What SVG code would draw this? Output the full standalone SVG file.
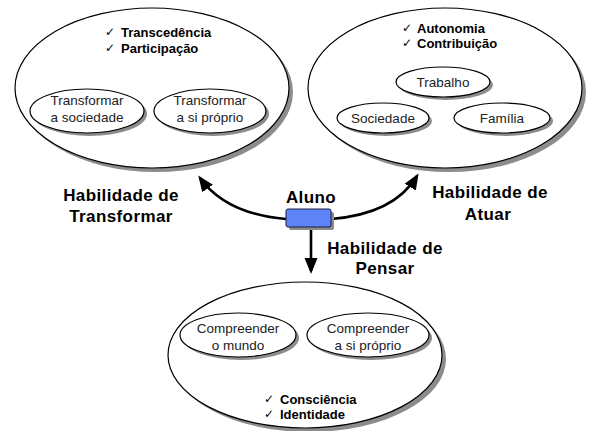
<svg xmlns="http://www.w3.org/2000/svg" width="590" height="431" viewBox="0 0 590 431">
<defs>
<style>
.sh{fill:#8c8c8c;stroke:none}
.el{fill:#fff;stroke:#000;stroke-width:1.2}
.in{font-family:"Liberation Sans",Arial,sans-serif;font-size:13.5px;fill:#222;text-anchor:middle}
.it{font-family:"Liberation Sans",Arial,sans-serif;font-size:13px;font-weight:bold;fill:#000}
.ck{font-family:"DejaVu Sans",sans-serif;font-size:12px;fill:#000}
.lb{font-family:"Liberation Sans",Arial,sans-serif;font-size:17px;font-weight:bold;fill:#000;text-anchor:middle;letter-spacing:0.4px}
.cn{fill:none;stroke:#000;stroke-width:2.6}
</style>
<marker id="ah" markerUnits="userSpaceOnUse" markerWidth="16" markerHeight="14" refX="13" refY="6.5" orient="auto">
<path d="M0,0 L16,6.5 L0,13 z" fill="#000"/>
</marker>
</defs>
<rect width="590" height="431" fill="#fff"/>

<g id="transformar">
<ellipse class="sh" cx="156" cy="92" rx="137" ry="80"/>
<ellipse class="el" cx="152" cy="88" rx="137" ry="80"/>
<text class="ck" x="105" y="36">✓</text>
<text class="it" x="121" y="37">Transcedência</text>
<text class="ck" x="105" y="52">✓</text>
<text class="it" x="121" y="53">Participação</text>
<g id="transformar-sociedade">
<ellipse class="sh" cx="90" cy="114" rx="57" ry="22"/>
<ellipse class="el" cx="87" cy="111" rx="57" ry="22"/>
<text class="in" x="87" y="105">Transformar</text>
<text class="in" x="87" y="122">a sociedade</text>
</g>
<g id="transformar-si">
<ellipse class="sh" cx="213" cy="114" rx="56" ry="22"/>
<ellipse class="el" cx="210" cy="111" rx="56" ry="22"/>
<text class="in" x="210" y="105">Transformar</text>
<text class="in" x="210" y="122">a si próprio</text>
</g>
</g>

<g id="atuar">
<ellipse class="sh" cx="449" cy="92" rx="137" ry="80"/>
<ellipse class="el" cx="445" cy="88" rx="137" ry="80"/>
<text class="ck" x="402" y="32">✓</text>
<text class="it" x="417" y="33">Autonomia</text>
<text class="ck" x="402" y="47">✓</text>
<text class="it" x="417" y="48">Contribuição</text>
<g id="trabalho">
<ellipse class="sh" cx="446" cy="85" rx="47" ry="15"/>
<ellipse class="el" cx="443" cy="82" rx="47" ry="15"/>
<text class="in" x="443" y="87">Trabalho</text>
</g>
<g id="sociedade">
<ellipse class="sh" cx="386" cy="121" rx="46" ry="15"/>
<ellipse class="el" cx="383" cy="118" rx="46" ry="15"/>
<text class="in" x="383" y="123">Sociedade</text>
</g>
<g id="familia">
<ellipse class="sh" cx="505" cy="121" rx="48" ry="15"/>
<ellipse class="el" cx="502" cy="118" rx="48" ry="15"/>
<text class="in" x="502" y="123">Família</text>
</g>
</g>

<g id="pensar">
<ellipse class="sh" cx="309" cy="359" rx="137" ry="73"/>
<ellipse class="el" cx="305" cy="355" rx="137" ry="73"/>
<g id="compreender-mundo">
<ellipse class="sh" cx="241" cy="338" rx="58" ry="22"/>
<ellipse class="el" cx="238" cy="335" rx="58" ry="22"/>
<text class="in" x="238" y="333">Compreender</text>
<text class="in" x="238" y="350">o mundo</text>
</g>
<g id="compreender-si">
<ellipse class="sh" cx="371" cy="338" rx="61" ry="22"/>
<ellipse class="el" cx="368" cy="335" rx="61" ry="22"/>
<text class="in" x="368" y="333">Compreender</text>
<text class="in" x="368" y="350">a si próprio</text>
</g>
<text class="ck" x="264" y="403">✓</text>
<text class="it" x="280" y="404">Consciência</text>
<text class="ck" x="264" y="418">✓</text>
<text class="it" x="280" y="419">Identidade</text>
</g>

<g id="connectors">
<path class="cn" d="M286,219 Q226,214 200,178" marker-end="url(#ah)"/>
<path class="cn" d="M331,219 Q394,214 417,176" marker-end="url(#ah)"/>
<path class="cn" d="M311,227 L311,271" marker-end="url(#ah)"/>
</g>

<g id="aluno">
<rect x="289" y="212" width="45" height="18" rx="2" fill="#8c8c8c"/>
<rect x="286" y="209" width="45" height="18" rx="2" fill="#5f84f7" stroke="#1a1a40" stroke-width="1"/>
<text class="lb" x="311" y="203">Aluno</text>
</g>

<g id="labels">
<text class="lb" x="121" y="201">Habilidade de</text>
<text class="lb" x="121" y="222">Transformar</text>
<text class="lb" x="490" y="198">Habilidade de</text>
<text class="lb" x="488" y="220">Atuar</text>
<text class="lb" x="385" y="254">Habilidade de</text>
<text class="lb" x="385" y="274">Pensar</text>
</g>
</svg>
